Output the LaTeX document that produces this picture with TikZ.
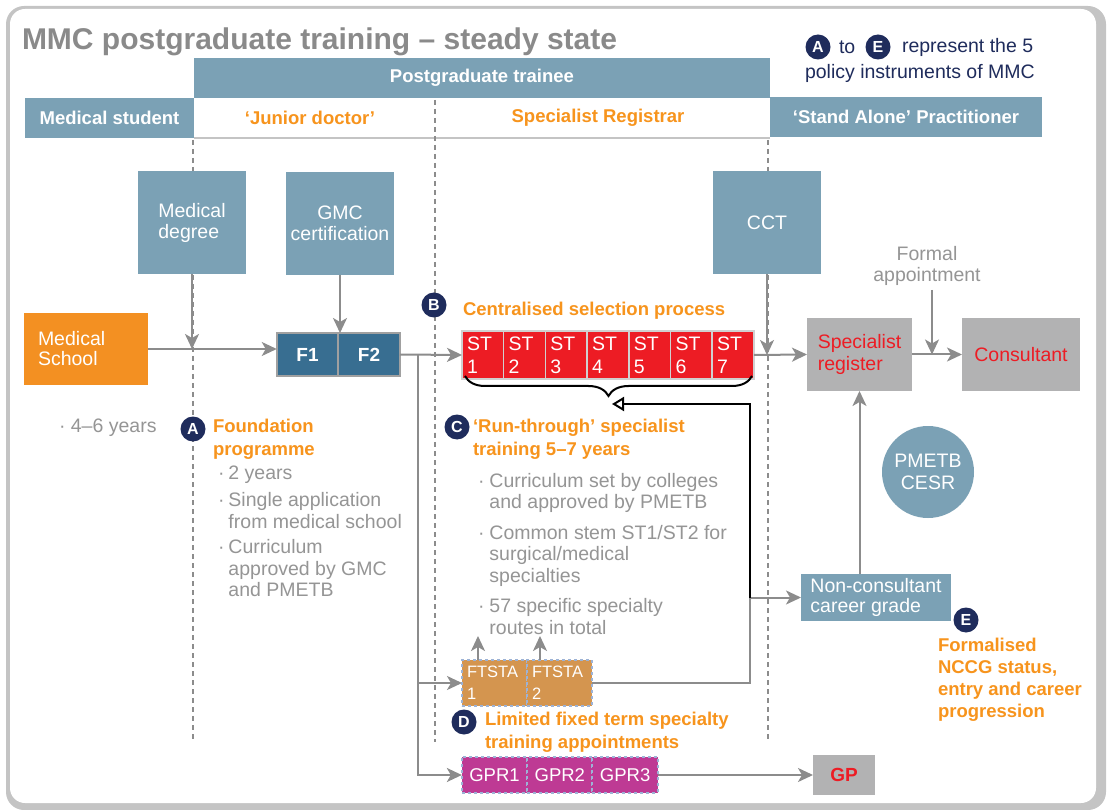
\documentclass[tikz,border=0pt]{standalone}
\usepackage{fontspec}
\setmainfont{Liberation Sans}
\usetikzlibrary{arrows.meta,positioning,decorations.pathreplacing}
\definecolor{steel}{HTML}{7BA1B5}
\definecolor{fblue}{HTML}{386E91}
\definecolor{morange}{HTML}{F39022}
\definecolor{torange}{HTML}{F7941D}
\definecolor{stred}{HTML}{ED1C24}
\definecolor{boxgray}{HTML}{B2B2B3}
\definecolor{txtgray}{HTML}{959595}
\definecolor{titlegray}{HTML}{8A8A8A}
\definecolor{linegray}{HTML}{8C8C8C}
\definecolor{navy}{HTML}{1F2C5C}
\definecolor{ftan}{HTML}{D4954F}
\definecolor{gprpink}{HTML}{BE3A94}
\definecolor{dashblue}{HTML}{9DB3D6}
\definecolor{framegray}{HTML}{C4C4C4}
\definecolor{boxedge}{HTML}{A0A0A0}
\definecolor{stedge}{HTML}{D0D0D0}

\begin{document}
\begin{tikzpicture}[x=1pt, y=-1pt,
     every node/.style = {inner sep=0pt, outer sep=0pt},
     hdr/.style = {fill=steel, text=white, minimum height=40pt, font=\fontsize{18.5}{22}\selectfont\bfseries},
     role/.style = {text=torange, font=\fontsize{18.5}{22}\selectfont\bfseries},
     box/.style = {fill=steel, text=white, minimum width=108pt, minimum height=103pt, font=\fontsize{19.5}{21}\selectfont},
     fbox/.style = {draw=boxedge, line width=2pt, fill=fblue, text=white, minimum width=61.5pt, minimum height=43pt, font=\fontsize{19}{22}\selectfont\bfseries},
     stbox/.style = {draw=stedge, line width=1.5pt, fill=stred, text=white, minimum height=48pt, inner xsep=5pt, text width=31.7pt, align=left, font=\fontsize{19.5}{23}\selectfont},
     ftbox/.style = {draw=dashblue, dashed, line width=2pt, fill=ftan, text=white, minimum height=46pt, inner xsep=5pt, text width=55pt, align=left, font=\fontsize{16.5}{22}\selectfont},
     gprbox/.style = {draw=dashblue, dashed, line width=2pt, fill=gprpink, text=white, minimum width=65.3pt, minimum height=36pt, font=\fontsize{18.5}{22}\selectfont},
     greybox/.style = {fill=boxgray, text=stred, minimum height=73pt, align=left, font=\fontsize{19.5}{22}\selectfont},
     badge/.style = {circle, fill=navy, text=white, minimum size=25pt, font=\fontsize{16}{16}\selectfont\bfseries},
     btitle/.style = {text=torange, align=left, font=\fontsize{18.5}{23}\selectfont\bfseries},
     gtext/.style = {text=txtgray, font=\fontsize{19.5}{21.5}\selectfont},
     legend/.style = {text=navy, font=\fontsize{19.5}{22}\selectfont},
     guide/.style = {draw=linegray, line width=1.5pt, dash pattern=on 5pt off 4pt},
     line/.style = {draw=linegray, line width=2pt},
     arrow/.style = {draw=linegray, line width=2pt, -{Stealth[length=15pt, width=14pt, inset=4pt]}},
     blk/.style = {draw=black, line width=2pt, -{Triangle[open, fill=white, length=12pt, width=14pt]}}
    ]
    \useasboundingbox (0,0) rectangle (1109,810);
    \fill[framegray, rounded corners=18pt] (6,6) rectangle (1106,810);
    \fill[white, rounded corners=15pt] (10,9) rectangle (1096,803);

    \node[text=titlegray, anchor=base west, font=\fontsize{30}{34}\selectfont\bfseries] (ttl) at (22,50) {MMC postgraduate training – steady state};
    \node[badge] (la) at (818,47) {A};
    \node[legend, anchor=west] (lto) at (839,47) {to};
    \node[badge] (le) at (878,47) {E};
    \node[legend, anchor=west] (lrep) at (902,47) {represent the 5};
    \node[legend, anchor=west] (lpol) at (805,73) {policy instruments of MMC};

    \node[hdr, minimum width=576pt] (pgt) at (482,78) {Postgraduate trainee};
    \node[hdr, minimum width=169pt] (mstud) at (109.5,118) {Medical student};
    \node[hdr, minimum width=272pt] (sap) at (906,117) {‘Stand Alone’ Practitioner};
    \draw[framegray, line width=1.5pt] (194,138) -- (770,138);
    \node[role] (jd) at (310,118) {‘Junior doctor’};
    \node[role] (sreg) at (598,118) {Specialist Registrar};

    \draw[guide] (193,140) -- (193,742);
    \draw[guide] (435,100) -- (435,742);
    \draw[guide] (768,140) -- (768,742);

    \node[box, align=left] (md) at (192,222.5) {Medical\\degree};
    \node[box, align=center] (gmc) at (340,223.5) {GMC\\certification};
    \node[box] (cct) at (767,222.5) {CCT};
    \node[fill=morange, text=white, minimum height=72pt, inner xsep=14pt, text width=96pt, align=left, font=\fontsize{19.5}{20}\selectfont] (ms) at (86,349) {Medical\\School};

    \node[fbox] (f1) at (307.5,354.5) {F1};
    \node[fbox, right=0pt of f1] (f2) {F2};

    \node[stbox] (st1) at (482.85,355) {ST\\1};
    \node[stbox, right=0pt of st1] (st2) {ST\\2};
    \node[stbox, right=0pt of st2] (st3) {ST\\3};
    \node[stbox, right=0pt of st3] (st4) {ST\\4};
    \node[stbox, right=0pt of st4] (st5) {ST\\5};
    \node[stbox, right=0pt of st5] (st6) {ST\\6};
    \node[stbox, right=0pt of st6] (st7) {ST\\7};
    \draw[decorate, decoration={brace, mirror, amplitude=20pt}, line width=2pt] (465,376) -- (752,376);

    \node[greybox, minimum width=105pt] (sr) at (859.5,354.5) {Specialist\\register};
    \node[greybox, minimum width=118pt] (cons) at (1021,354.5) {Consultant};
    \node[gtext, align=center] (fa) at (927,266) {Formal\\appointment};
    \node[circle, fill=steel, text=white, minimum size=92pt, align=center, font=\fontsize{19.5}{22}\selectfont] (cesr) at (928,472) {PMETB\\CESR};
    \node[fill=steel, text=white, minimum width=150pt, minimum height=47pt, align=left, font=\fontsize{19.5}{20}\selectfont] (ncg) at (876,597.5) {Non-consultant\\career grade};

    \node[ftbox] (ft1) at (494.5,683) {FTSTA\\1};
    \node[ftbox, right=0pt of ft1] (ft2) {FTSTA\\2};
    \node[gprbox] (gpr1) at (494.5,775) {GPR1};
    \node[gprbox, right=0pt of gpr1] (gpr2) {GPR2};
    \node[gprbox, right=0pt of gpr2] (gpr3) {GPR3};
    \node[fill=boxgray, text=stred, minimum width=62pt, minimum height=40pt, font=\fontsize{19}{22}\selectfont\bfseries] (gp) at (844,775) {GP};

    \node[badge] (ba) at (193,429) {A};
    \node[btitle, anchor=west] (fnd) at (213,439.5) {Foundation\\programme};
    \node[gtext, anchor=base west] (fpl) at (218,479) {\begin{tabular}[t]{@{}l@{\hspace{4pt}}l@{}}·&2 years\\[6pt] ·&Single application\\ &from medical school\\[4pt] ·&Curriculum\\ &approved by GMC\\ &and PMETB\end{tabular}};
    \node[gtext, anchor=west] (yrs) at (59,428) {· 4–6 years};

    \node[badge] (bb) at (434,305) {B};
    \node[btitle, anchor=west] (csp) at (463,311) {Centralised selection process};
    \node[badge] (bc) at (457,427) {C};
    \node[btitle, anchor=west] (rtt) at (473,439) {‘Run-through’ specialist\\training 5–7 years};
    \node[gtext, anchor=base west] (rtl) at (478,487) {\begin{tabular}[t]{@{}l@{\hspace{5pt}}l@{}}·&Curriculum set by colleges\\ &and approved by PMETB\\[9pt] ·&Common stem ST1/ST2 for\\ &surgical/medical\\ &specialties\\[9pt] ·&57 specific specialty\\ &routes in total\end{tabular}};
    \node[badge] (bd) at (464,722) {D};
    \node[btitle, anchor=west] (lft) at (485,732.5) {Limited fixed term specialty\\training appointments};
    \node[badge] (be) at (966,620) {E};
    \node[btitle, anchor=west, font=\fontsize{18.5}{22}\selectfont\bfseries] (nccg) at (938,679.5) {Formalised\\NCCG status,\\entry and career\\progression};

    \coordinate (ncjoin) at (750,597.5);
    \coordinate (bracetip) at (612,404);
    \coordinate (up1) at (478,636);
    \coordinate (up2) at (540,636);
    \path (f2.east) ++(18,0) coordinate (split);

    \draw[arrow] (ms) -- (ms -| f1.west);
    \draw[arrow] (md.south) -- (md.south |- ms);
    \draw[arrow] (gmc.south) -- (gmc.south |- f1.north);
    \draw[arrow] (f2.east) -- (st1.west);
    \draw[arrow] (split) |- (ft1.west);
    \draw[arrow] (split) |- (gpr1.west);
    \draw[arrow] (cct.south) -- (cct.south |- st7.east);
    \draw[arrow] (st7.east) -- (sr.west);
    \draw[arrow] (sr.east) -- (cons.west);
    \draw[arrow] ([xshift=5pt, yshift=-4pt]fa.south) -- ([xshift=5pt]fa.south |- sr.east);
    \draw[arrow] (sr.south |- ncg.north) -- (sr.south);
    \draw[arrow] (gpr3.east) -- (gp.west);
    \draw[arrow] (ft1.north -| up1) -- (up1);
    \draw[arrow] (ft2.north -| up2) -- (up2);
    \draw[line] (ft2.east) -| (ncjoin);
    \draw[arrow] (ncjoin) -- (ncg.west);
    \draw[blk] (ncjoin) |- (bracetip);
\end{tikzpicture}
\end{document}
